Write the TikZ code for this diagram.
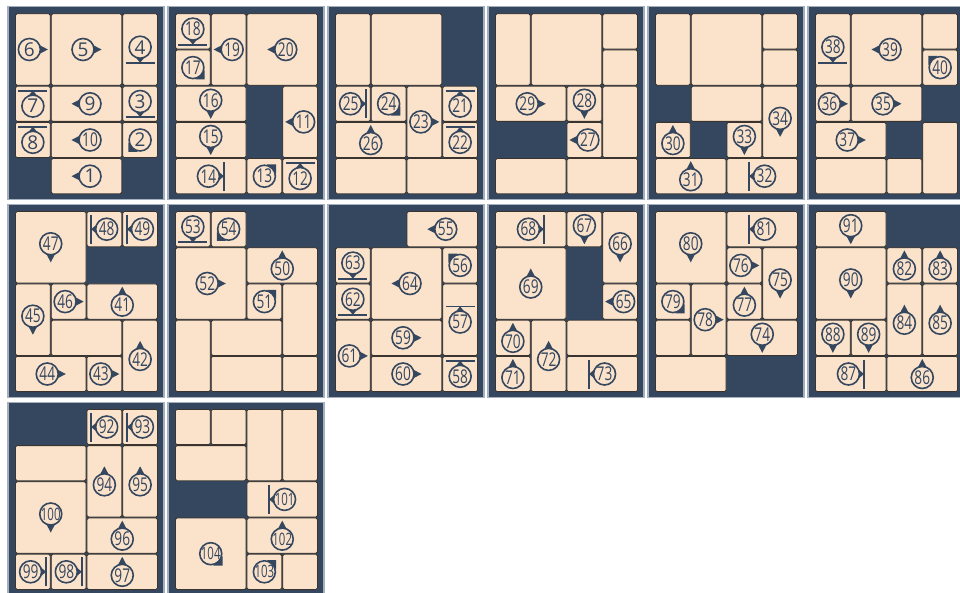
\documentclass[tikz,border=0pt]{standalone}
\usepackage{fontspec}
\newfontfamily\numfont{Open Sans}
\definecolor{navy}{HTML}{34475F}
\definecolor{peach}{HTML}{FBE2CA}
\definecolor{edgec}{HTML}{3A332E}
\definecolor{framec}{HTML}{A5B0BF}
\def\cw{35.75}
\def\ch{36.2}
\tikzset{
  cellbox/.style={fill=peach, draw=edgec, line width=0.8pt, rounded corners=1.5pt},
  ring/.style={fill=peach, draw=navy, line width=1.6pt},
  numst/.style={font=\numfont\fontsize{19}{19}\selectfont, text=navy, inner sep=0pt},
  panelbox/.style={fill=navy, draw=framec, line width=1.5pt},
  barline/.style={draw=navy, line width=1.9pt},
}
\newcommand\numtxt[1]{\ifnum#1>99 \scalebox{0.6}[0.9]{#1}\else\ifnum#1>9 \scalebox{0.72}[1]{#1}\else #1\fi\fi}
\newcommand\C[4]{\draw[cellbox] ({#1*\cw+0.5},{#2*\ch+0.5}) rectangle ({(#1+#3)*\cw-0.5},{(#2+#4)*\ch-0.5});}
% arrow marker
\newcommand\mka[3]{%
  \pgfmathsetmacro\ox{\mx-3.5*#1}\pgfmathsetmacro\oy{\my-3.5*#2}%
  \begin{scope}[shift={(\ox,\oy)}]
    \fill[navy] ({18.5*#1},{18.5*#2}) -- ({9*#1-5*#2},{9*#2+5*#1}) -- ({9*#1+5*#2},{9*#2-5*#1}) -- cycle;
    \draw[ring] (0,0) circle[radius=11pt];
    \node[numst] (n#3) at (0,0) {\numtxt{#3}};
  \end{scope}}
% bar marker
\newcommand\mkb[3]{%
  \pgfmathsetmacro\ox{\mx-2.3*#1}\pgfmathsetmacro\oy{\my-2.3*#2}%
  \begin{scope}[shift={(\ox,\oy)}]
    \fill[navy] ({15.5*#1},{15.5*#2}) -- ({9*#1-5.5*#2},{9*#2+5.5*#1}) -- ({9*#1+5.5*#2},{9*#2-5.5*#1}) -- cycle;
    \draw[barline] ({15.5*#1-14.5*#2},{15.5*#2+14.5*#1}) -- ({15.5*#1+14.5*#2},{15.5*#2-14.5*#1});
    \draw[ring] (0,0) circle[radius=11pt];
    \node[numst] (n#3) at (0,0) {\numtxt{#3}};
  \end{scope}}
% diagonal corner marker
\newcommand\mkg[3]{%
  \begin{scope}[shift={(\mx,\my)}]
    \fill[navy] ({11.8*#1},{11.8*#2}) -- ({2.5*#1},{11.8*#2}) -- ({11.8*#1},{2.5*#2}) -- cycle;
    \draw[ring] (0,0) circle[radius=11pt];
    \node[numst] (n#3) at (0,0) {\numtxt{#3}};
  \end{scope}}
\newcommand\M[8]{\C{#1}{#2}{#3}{#4}%
  \pgfmathsetmacro\mx{(#1+#3/2)*\cw}\pgfmathsetmacro\my{(#2+#4/2)*\ch}%
  \csname mk#5\endcsname{#6}{#7}{#8}}
\newcommand\panel[3]{\begin{scope}[shift={({8+160*#1},{6.7+197.8*#2})}]
  \draw[panelbox] (0,0) rectangle (156,193);
  \begin{scope}[shift={(7,6.6)}] #3 \end{scope}\end{scope}}
\begin{document}
\begin{tikzpicture}[x=1pt,y=-1pt]
\useasboundingbox (0,0) rectangle (960,593);
\clip (0,0) rectangle (960,593);
\fill[white] (0,0) rectangle (960,593);
% Panel 1
\panel{0}{0}{%
\M{0}{0}{1}{2}{a}{1}{0}{6}
\M{1}{0}{2}{2}{a}{1}{0}{5}
\M{3}{0}{1}{2}{b}{0}{1}{4}
\M{0}{2}{1}{1}{b}{0}{-1}{7}
\M{1}{2}{2}{1}{a}{-1}{0}{9}
\M{3}{2}{1}{1}{b}{0}{1}{3}
\M{0}{3}{1}{1}{b}{0}{-1}{8}
\M{1}{3}{2}{1}{a}{-1}{0}{10}
\M{3}{3}{1}{1}{g}{-1}{1}{2}
\M{1}{4}{2}{1}{a}{-1}{0}{1}
}
% Panel 2
\panel{1}{0}{%
\M{0}{0}{1}{1}{b}{0}{1}{18}
\M{0}{1}{1}{1}{g}{1}{1}{17}
\M{1}{0}{1}{2}{a}{-1}{0}{19}
\M{2}{0}{2}{2}{a}{-1}{0}{20}
\M{0}{2}{2}{1}{a}{0}{1}{16}
\M{0}{3}{2}{1}{a}{0}{1}{15}
\M{3}{2}{1}{2}{a}{-1}{0}{11}
\M{0}{4}{2}{1}{b}{1}{0}{14}
\M{2}{4}{1}{1}{g}{1}{-1}{13}
\M{3}{4}{1}{1}{b}{0}{-1}{12}
}
% Panel 3
\panel{2}{0}{%
\C{0}{0}{1}{2}
\C{1}{0}{2}{2}
\M{0}{2}{1}{1}{b}{1}{0}{25}
\M{1}{2}{1}{1}{g}{1}{1}{24}
\M{0}{3}{2}{1}{a}{0}{-1}{26}
\M{2}{2}{1}{2}{a}{1}{0}{23}
\M{3}{2}{1}{1}{b}{0}{-1}{21}
\M{3}{3}{1}{1}{b}{0}{-1}{22}
\C{0}{4}{2}{1}
\C{2}{4}{2}{1}
}
% Panel 4
\panel{3}{0}{%
\C{0}{0}{1}{2}
\C{1}{0}{2}{2}
\C{3}{0}{1}{1}
\C{3}{1}{1}{1}
\M{0}{2}{2}{1}{a}{1}{0}{29}
\M{2}{2}{1}{1}{a}{0}{1}{28}
\M{2}{3}{1}{1}{a}{-1}{0}{27}
\C{3}{2}{1}{2}
\C{0}{4}{2}{1}
\C{2}{4}{2}{1}
}
% Panel 5
\panel{4}{0}{%
\C{0}{0}{1}{2}
\C{1}{0}{2}{2}
\C{3}{0}{1}{1}
\C{3}{1}{1}{1}
\C{1}{2}{2}{1}
\M{3}{2}{1}{2}{a}{0}{1}{34}
\M{0}{3}{1}{1}{a}{0}{-1}{30}
\M{2}{3}{1}{1}{a}{0}{1}{33}
\M{0}{4}{2}{1}{a}{0}{-1}{31}
\M{2}{4}{2}{1}{b}{-1}{0}{32}
}
% Panel 6
\panel{5}{0}{%
\M{0}{0}{1}{2}{b}{0}{1}{38}
\M{1}{0}{2}{2}{a}{-1}{0}{39}
\C{3}{0}{1}{1}
\M{3}{1}{1}{1}{g}{-1}{-1}{40}
\M{0}{2}{1}{1}{a}{1}{0}{36}
\M{1}{2}{2}{1}{a}{1}{0}{35}
\M{0}{3}{2}{1}{a}{1}{0}{37}
\C{3}{3}{1}{2}
\C{0}{4}{2}{1}
\C{2}{4}{1}{1}
}
% Panel 7
\panel{0}{1}{%
\M{0}{0}{2}{2}{a}{0}{1}{47}
\M{2}{0}{1}{1}{b}{-1}{0}{48}
\M{3}{0}{1}{1}{b}{-1}{0}{49}
\M{0}{2}{1}{2}{a}{0}{1}{45}
\M{1}{2}{1}{1}{a}{1}{0}{46}
\M{2}{2}{2}{1}{a}{0}{-1}{41}
\C{1}{3}{2}{1}
\M{3}{3}{1}{2}{a}{0}{-1}{42}
\M{0}{4}{2}{1}{a}{1}{0}{44}
\M{2}{4}{1}{1}{a}{1}{0}{43}
}
% Panel 8
\panel{1}{1}{%
\M{0}{0}{1}{1}{b}{0}{1}{53}
\M{1}{0}{1}{1}{g}{-1}{1}{54}
\M{0}{1}{2}{2}{a}{1}{0}{52}
\M{2}{1}{2}{1}{a}{0}{-1}{50}
\M{2}{2}{1}{1}{g}{1}{-1}{51}
\C{3}{2}{1}{2}
\C{0}{3}{1}{2}
\C{1}{3}{2}{1}
\C{1}{4}{2}{1}
\C{3}{4}{1}{1}
}
% Panel 9
\panel{2}{1}{%
\M{2}{0}{2}{1}{a}{-1}{0}{55}
\M{0}{1}{1}{1}{b}{0}{1}{63}
\M{0}{2}{1}{1}{b}{0}{1}{62}
\M{1}{1}{2}{2}{a}{-1}{0}{64}
\M{3}{1}{1}{1}{g}{-1}{-1}{56}
\M{3}{2}{1}{2}{b}{0}{-1}{57}
\M{0}{3}{1}{2}{a}{1}{0}{61}
\M{1}{3}{2}{1}{a}{1}{0}{59}
\M{1}{4}{2}{1}{a}{1}{0}{60}
\M{3}{4}{1}{1}{b}{0}{-1}{58}
}
% Panel 10
\panel{3}{1}{%
\M{0}{0}{2}{1}{b}{1}{0}{68}
\M{2}{0}{1}{1}{a}{0}{1}{67}
\M{3}{0}{1}{2}{a}{0}{1}{66}
\M{0}{1}{2}{2}{a}{0}{-1}{69}
\M{3}{2}{1}{1}{a}{-1}{0}{65}
\M{0}{3}{1}{1}{a}{0}{-1}{70}
\M{0}{4}{1}{1}{a}{0}{-1}{71}
\M{1}{3}{1}{2}{a}{0}{-1}{72}
\C{2}{3}{2}{1}
\M{2}{4}{2}{1}{b}{-1}{0}{73}
}
% Panel 11
\panel{4}{1}{%
\M{0}{0}{2}{2}{a}{0}{1}{80}
\M{2}{0}{2}{1}{b}{-1}{0}{81}
\M{2}{1}{1}{1}{a}{1}{0}{76}
\M{3}{1}{1}{2}{a}{0}{1}{75}
\M{2}{2}{1}{1}{a}{0}{-1}{77}
\M{0}{2}{1}{1}{g}{1}{1}{79}
\M{1}{2}{1}{2}{a}{1}{0}{78}
\C{0}{3}{1}{1}
\M{2}{3}{2}{1}{a}{0}{1}{74}
\C{0}{4}{2}{1}
}
% Panel 12
\panel{5}{1}{%
\M{0}{0}{2}{1}{a}{0}{1}{91}
\M{0}{1}{2}{2}{a}{0}{1}{90}
\M{2}{1}{1}{1}{a}{0}{-1}{82}
\M{3}{1}{1}{1}{a}{0}{-1}{83}
\M{2}{2}{1}{2}{a}{0}{-1}{84}
\M{3}{2}{1}{2}{a}{0}{-1}{85}
\M{0}{3}{1}{1}{a}{0}{1}{88}
\M{1}{3}{1}{1}{a}{0}{1}{89}
\M{0}{4}{2}{1}{b}{1}{0}{87}
\M{2}{4}{2}{1}{a}{0}{-1}{86}
}
% Panel 13
\panel{0}{2}{%
\M{2}{0}{1}{1}{b}{-1}{0}{92}
\M{3}{0}{1}{1}{b}{-1}{0}{93}
\C{0}{1}{2}{1}
\M{2}{1}{1}{2}{a}{0}{-1}{94}
\M{3}{1}{1}{2}{a}{0}{-1}{95}
\M{0}{2}{2}{2}{a}{0}{1}{100}
\M{2}{3}{2}{1}{a}{0}{-1}{96}
\M{0}{4}{1}{1}{b}{1}{0}{99}
\M{1}{4}{1}{1}{b}{1}{0}{98}
\M{2}{4}{2}{1}{a}{0}{-1}{97}
}
% Panel 14
\panel{1}{2}{%
\C{0}{0}{1}{1}
\C{1}{0}{1}{1}
\C{2}{0}{1}{2}
\C{3}{0}{1}{2}
\C{0}{1}{2}{1}
\M{2}{2}{2}{1}{b}{-1}{0}{101}
\M{0}{3}{2}{2}{g}{1}{1}{104}
\M{2}{3}{2}{1}{a}{0}{-1}{102}
\M{2}{4}{1}{1}{g}{1}{-1}{103}
\C{3}{4}{1}{1}
}
\end{tikzpicture}
\end{document}
